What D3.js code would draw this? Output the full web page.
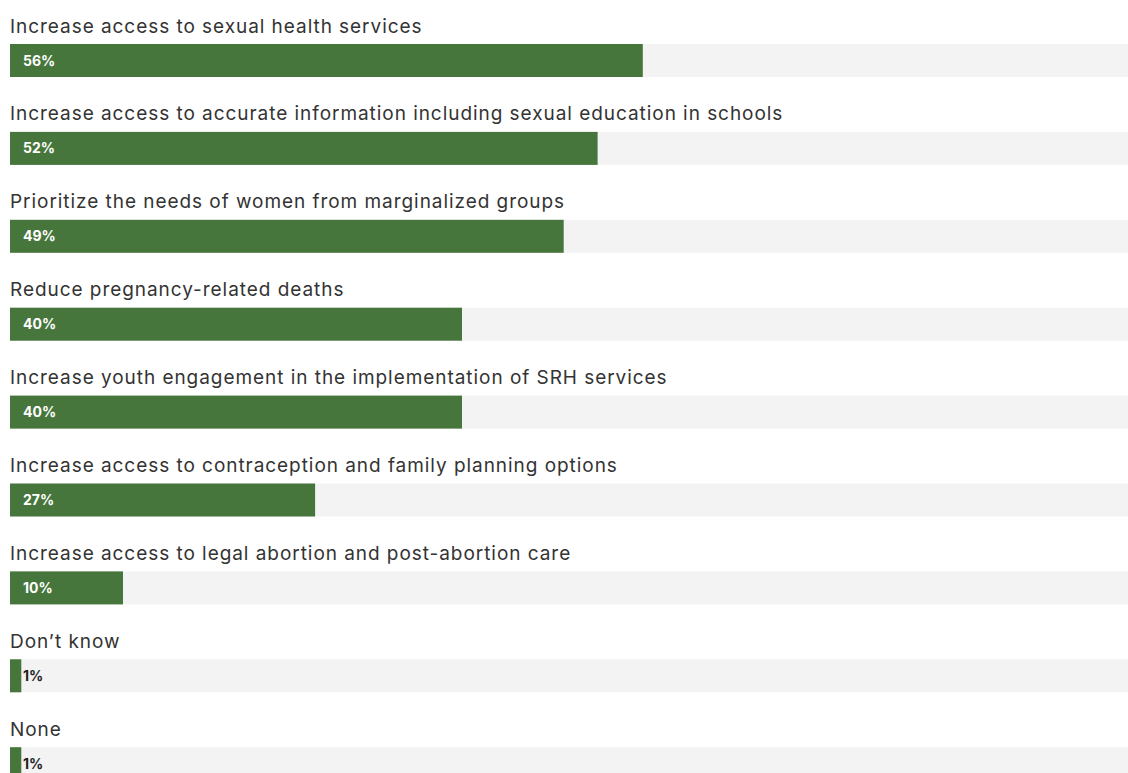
<!DOCTYPE html>
<html>
<head>
<meta charset="utf-8">
<script src="https://cdn.jsdelivr.net/npm/d3@7"></script>
<style>
  html, body { margin: 0; padding: 0; background: #fff; overflow: hidden; }
  svg { display: block; }
</style>
</head>
<body>
<svg id="chart" width="1128" height="773"></svg>
<script>
// Survey priorities, share of respondents (%)
const categories = [
  "Increase access to sexual health services",
  "Increase access to accurate information including sexual education in schools",
  "Prioritize the needs of women from marginalized groups",
  "Reduce pregnancy-related deaths",
  "Increase youth engagement in the implementation of SRH services",
  "Increase access to contraception and family planning options",
  "Increase access to legal abortion and post-abortion care",
  "Don\u2019t know",
  "None"
];
const values = [56, 52, 49, 40, 40, 27, 10, 1, 1];

const svg = d3.select("#chart");

const x = d3.scaleLinear().domain([0, 100]).range([10, 1140]);
const y = d3.scaleBand()
  .domain(categories)
  .range([44, 44 + 87.9 * categories.length])
  .paddingInner(0)
  .paddingOuter(0);
const barH = 33;

const rows = svg.selectAll("g.row")
  .data(categories.map((c, i) => ({ c, v: values[i] })))
  .join("g")
  .attr("class", "row")
  .attr("transform", d => `translate(0,${y(d.c)})`);

// background track
rows.append("rect")
  .attr("x", x(0))
  .attr("y", 0)
  .attr("width", x(100) - x(0))
  .attr("height", barH)
  .attr("fill", "#f3f3f3");

// value bar
rows.append("rect")
  .attr("x", x(0))
  .attr("y", 0)
  .attr("width", d => x(d.v) - x(0))
  .attr("height", barH)
  .attr("fill", "#47763c");

// category label
rows.append("text")
  .attr("x", 10)
  .attr("y", -11.5)
  .attr("font-family", "Inter, 'Noto Sans', sans-serif")
  .attr("font-size", 19)
  .attr("letter-spacing", 0.95)
  .attr("fill", "#333")
  .text(d => d.c);

// value label
rows.append("text")
  .attr("x", 23)
  .attr("y", barH / 2 + 5)
  .attr("font-family", "Inter, 'Noto Sans', sans-serif")
  .attr("font-size", 14)
  .attr("font-weight", 700)
  .attr("fill", d => (x(d.v) - x(0) > 40 ? "#fff" : "#222"))
  .text(d => d.v + "%");
</script>
</body>
</html>
